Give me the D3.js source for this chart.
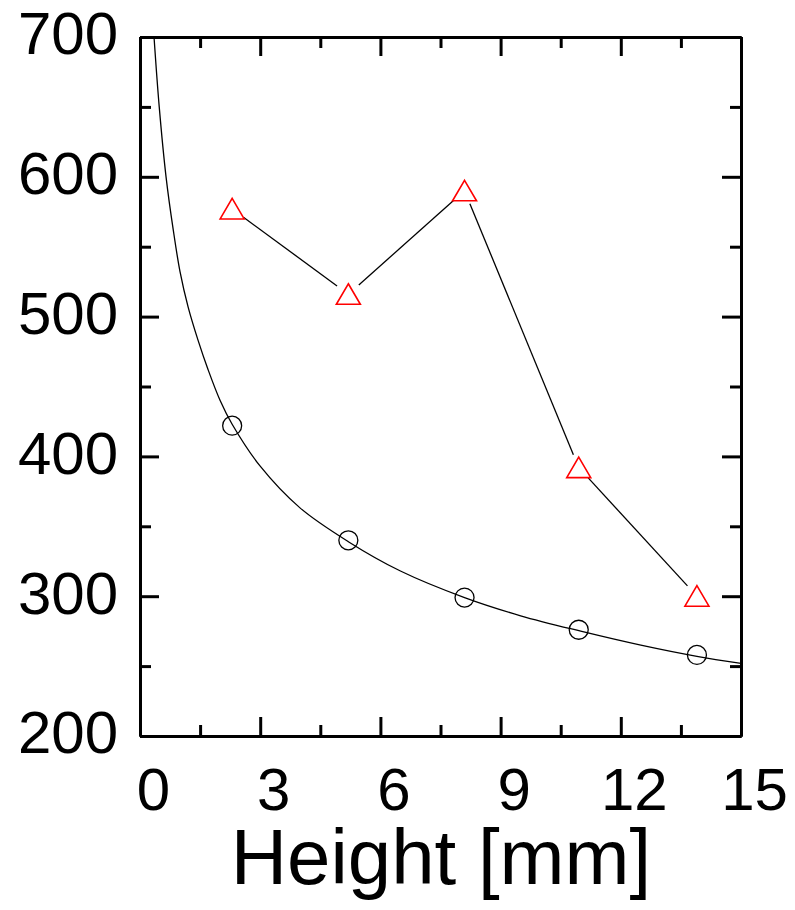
<!DOCTYPE html>
<html>
  <head>
    <meta http-equiv="Content-type" content="text/html; charset=utf-8">
    <title>Height chart</title>
    <script src="https://d3js.org/d3.v7.min.js"></script>
    <style>
      body { margin: 0; background: #fff; }
      text { font-family: "Liberation Sans", Arial, sans-serif; }
    </style>
  </head>
  <body>
    <div id="chart"></div>
    <script type="text/javascript">
      // values
      var heights = [2.3, 5.2, 8.1, 10.95, 13.9];
      var circleValues = [422, 340, 299, 276, 258];
      var triangleValues = [577, 516, 590, 392, 300];
      // fitted curve
      var curveX = [0.35, 0.48, 0.65, 0.83, 1.0, 1.2, 1.45, 1.7, 2.0, 2.3, 3, 4, 5.2, 6.5, 8.1, 9.5, 11, 12.5, 13.9, 15];
      var curveY = [700, 650, 600, 562, 532, 507, 483, 462, 440, 423, 393, 363, 339, 318, 299, 286, 275, 265, 257, 252];
      var xTicks = [0, 3, 6, 9, 12, 15];
      var xMinor = [1.5, 4.5, 7.5, 10.5, 13.5];
      var yTicks = [200, 300, 400, 500, 600, 700];
      var yMinor = [250, 350, 450, 550, 650];
      var xTitle = 'Height [mm]';

      (function(d3) {
        'use strict';

        var width = 795, height = 910;
        var mLeft = 140, mRight = 741, mTop = 37, mBottom = 736;
        var font = '"Liberation Sans", Arial, sans-serif';

        var svg = d3.select('#chart').append('svg')
          .attr('width', width)
          .attr('height', height);

        svg.append('rect').attr('width', width).attr('height', height).attr('fill', '#fff');

        var x = d3.scaleLinear().domain([0, 15]).range([mLeft, mRight]);
        var y = d3.scaleLinear().domain([200, 700]).range([mBottom, mTop]);

        function styleAxis(g) {
          g.select('.domain').attr('stroke-width', 3);
          g.selectAll('.tick line').attr('stroke-width', 3);
        }

        // bottom axis with labels
        var gb = svg.append('g').attr('transform', 'translate(0,' + mBottom + ')')
          .call(d3.axisBottom(x).tickValues(xTicks).tickSize(-19).tickSizeOuter(0));
        gb.selectAll('text')
          .attr('y', 74).attr('dy', 0).attr('dx', 13)
          .attr('font-size', 60).attr('fill', '#000')
          .style('font-family', font);
        styleAxis(gb);
        svg.append('g').attr('transform', 'translate(0,' + mBottom + ')')
          .call(d3.axisBottom(x).tickValues(xMinor).tickSize(-11).tickSizeOuter(0).tickFormat(''))
          .call(styleAxis);

        // top axis
        svg.append('g').attr('transform', 'translate(0,' + mTop + ')')
          .call(d3.axisTop(x).tickValues(xTicks).tickSize(-19).tickSizeOuter(0).tickFormat(''))
          .call(styleAxis);
        svg.append('g').attr('transform', 'translate(0,' + mTop + ')')
          .call(d3.axisTop(x).tickValues(xMinor).tickSize(-11).tickSizeOuter(0).tickFormat(''))
          .call(styleAxis);

        // left axis with labels
        var gl = svg.append('g').attr('transform', 'translate(' + mLeft + ',0)')
          .call(d3.axisLeft(y).tickValues(yTicks).tickSize(-19).tickSizeOuter(0).tickPadding(22));
        gl.selectAll('text')
          .attr('dy', '0.28em')
          .attr('font-size', 60).attr('fill', '#000')
          .style('font-family', font);
        styleAxis(gl);
        svg.append('g').attr('transform', 'translate(' + mLeft + ',0)')
          .call(d3.axisLeft(y).tickValues(yMinor).tickSize(-11).tickSizeOuter(0).tickFormat(''))
          .call(styleAxis);

        // right axis
        svg.append('g').attr('transform', 'translate(' + mRight + ',0)')
          .call(d3.axisRight(y).tickValues(yTicks).tickSize(-19).tickSizeOuter(0).tickFormat(''))
          .call(styleAxis);
        svg.append('g').attr('transform', 'translate(' + mRight + ',0)')
          .call(d3.axisRight(y).tickValues(yMinor).tickSize(-11).tickSizeOuter(0).tickFormat(''))
          .call(styleAxis);

        // fitted curve
        var curvePts = curveX.map(function(d, i) { return [d, curveY[i]]; });
        svg.append('path')
          .datum(curvePts)
          .attr('fill', 'none')
          .attr('stroke', '#000')
          .attr('stroke-width', 1.3)
          .attr('d', d3.line()
            .x(function(d) { return x(d[0]); })
            .y(function(d) { return y(d[1]); })
            .curve(d3.curveCatmullRom.alpha(0.5)));

        // circles
        svg.selectAll('circle.pt')
          .data(heights)
          .enter().append('circle')
          .attr('class', 'pt')
          .attr('cx', function(d) { return x(d); })
          .attr('cy', function(d, i) { return y(circleValues[i]); })
          .attr('r', 9.5)
          .attr('fill', 'none')
          .attr('stroke', '#000')
          .attr('stroke-width', 1.3);

        // triangle series: segments stop short of the markers
        var gap = 14;
        var segs = d3.pairs(heights.map(function(d, i) { return [x(d), y(triangleValues[i])]; }));
        svg.selectAll('line.seg')
          .data(segs)
          .enter().append('line')
          .attr('class', 'seg')
          .each(function(s) {
            var dx = s[1][0] - s[0][0], dy = s[1][1] - s[0][1];
            var len = Math.sqrt(dx * dx + dy * dy);
            var ux = dx / len, uy = dy / len;
            d3.select(this)
              .attr('x1', s[0][0] + ux * gap).attr('y1', s[0][1] + uy * gap)
              .attr('x2', s[1][0] - ux * gap).attr('y2', s[1][1] - uy * gap);
          })
          .attr('stroke', '#000')
          .attr('stroke-width', 1.3);

        svg.selectAll('path.tri')
          .data(heights)
          .enter().append('path')
          .attr('class', 'tri')
          .attr('transform', function(d, i) {
            return 'translate(' + x(d) + ',' + y(triangleValues[i]) + ')';
          })
          .attr('d', 'M0,-10.5L12,10L-12,10Z')
          .attr('fill', 'none')
          .attr('stroke', '#ff0000')
          .attr('stroke-width', 1.6);

        // x axis title
        svg.append('text')
          .attr('x', 441)
          .attr('y', 884)
          .attr('text-anchor', 'middle')
          .attr('font-size', 78)
          .attr('fill', '#000')
          .style('font-family', font)
          .text(xTitle);
      })(window.d3);
    </script>
  </body>
</html>
